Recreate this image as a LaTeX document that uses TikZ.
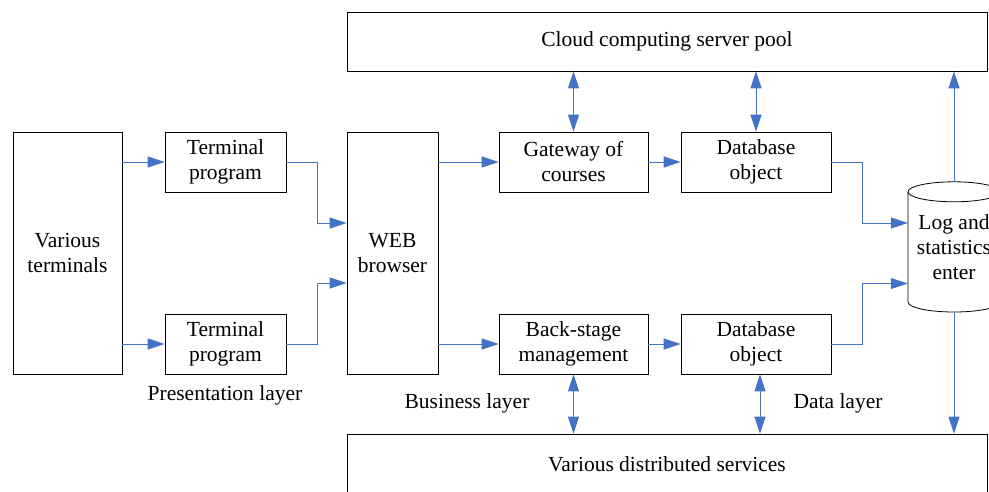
\documentclass[tikz,border=0pt]{standalone}
\usepackage{fontspec}
\setmainfont{Liberation Serif}
\usetikzlibrary{arrows.meta}
\definecolor{linkblue}{RGB}{68,114,196}
\tikzset{
  box/.style={draw=black, line width=0.8pt, align=center, inner sep=0pt,
              font=\fontsize{21.5}{25}\selectfont},
  lbl/.style={font=\fontsize{21.5}{25}\selectfont, inner sep=0pt},
  flow/.style={draw=linkblue, line width=1pt,
               -{Triangle[length=17pt,width=11pt]}},
  both/.style={draw=linkblue, line width=1pt,
               {Triangle[length=17pt,width=11pt]}-{Triangle[length=17pt,width=11pt]}}
}
\begin{document}
\begin{tikzpicture}[x=1pt,y=-1pt]
\useasboundingbox (0,0) rectangle (989,491);

% pools at top and bottom
\node[box, minimum width=640pt, minimum height=59pt] (cloud) at (667,41.5) {Cloud computing server pool};
\node[box, minimum width=640pt, minimum height=60pt] (services) at (667,464) {Various distributed services};

% presentation layer
\node[box, minimum width=109pt, minimum height=242pt] (terms) at (67.5,253) {Various\\terminals};
\node[box, minimum width=121pt, minimum height=60pt] (tp1) at (225.5,162) {Terminal\\program};
\node[box, minimum width=121pt, minimum height=60pt] (tp2) at (225.5,344) {Terminal\\program};
\node[box, minimum width=91pt, minimum height=242pt] (web) at (392.5,253) {WEB\\browser};

% business and data layers
\node[box, minimum width=149pt, minimum height=60pt] (gw) at (573.5,162) {Gateway of\\courses};
\node[box, minimum width=149pt, minimum height=60pt] (bs) at (573.5,344) {Back-stage\\management};
\node[box, minimum width=150pt, minimum height=60pt] (db1) at (756,162) {Database\\object};
\node[box, minimum width=150pt, minimum height=60pt] (db2) at (756,344) {Database\\object};

% log store drawn as a cylinder
\node[lbl, minimum width=92pt, minimum height=131pt, align=center] (log) at (954,247.5) {Log and\\statistics\\enter};
\draw[line width=0.8pt] (log.north) ++(0,10) ellipse [x radius=46pt, y radius=10pt];
\draw[line width=0.8pt] (908,192) -- (908,302)
  arc[start angle=180, end angle=360, x radius=46pt, y radius=10pt] -- (1000,192);

% layer captions
\node[lbl] (pres) at (225,395) {Presentation layer};
\node[lbl] (biz) at (467,403) {Business layer};
\node[lbl] (data) at (838,403) {Data layer};

% flows
\draw[flow] (terms.east |- tp1.west) -- (tp1.west);
\draw[flow] (terms.east |- tp2.west) -- (tp2.west);
\draw[flow] (tp1.east) -- ++(31,0) |- ([yshift=30pt]web.west);
\draw[flow] (tp2.east) -- ++(31,0) |- ([yshift=-30pt]web.west);
\draw[flow] (web.east |- gw.west) -- (gw.west);
\draw[flow] (web.east |- bs.west) -- (bs.west);
\draw[flow] (gw.east) -- (db1.west);
\draw[flow] (bs.east) -- (db2.west);
\draw[flow] (db1.east) -- ++(31,0) |- ([yshift=24.5pt]log.west);
\draw[flow] (db2.east) -- ++(31,0) |- ([yshift=-36pt]log.west);

\draw[both] (gw.north) -- (gw.north |- cloud.south);
\draw[both] (db1.north) -- (db1.north |- cloud.south);
\draw[both] (bs.south) -- (bs.south |- services.north);
\draw[both] ([xshift=4pt]db2.south) -- ([xshift=4pt]db2.south |- services.north);
\draw[flow] (log.north) -- (log.north |- cloud.south);
\draw[flow] (log.south) -- (log.south |- services.north);
\end{tikzpicture}
\end{document}
